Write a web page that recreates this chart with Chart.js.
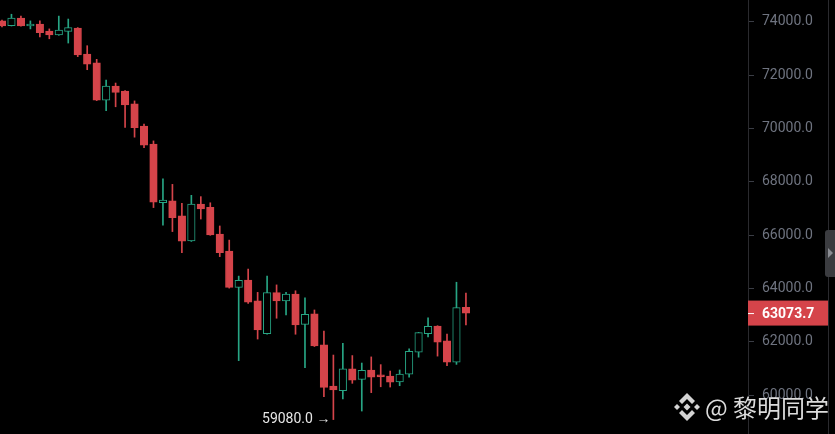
<!DOCTYPE html>
<html>
<head>
<meta charset="utf-8">
<script src="https://cdn.jsdelivr.net/npm/chart.js@4.4.1/dist/chart.umd.min.js"></script>
<style>
  html, body { margin: 0; padding: 0; background: #000; }
  #wrap { position: relative; width: 835px; height: 434px; }
</style>
</head>
<body>
<div id="wrap"><canvas id="kline"></canvas></div>
<script>
// Bougies (ouverture, plus haut, plus bas, clôture)
const opens  = [74030, 73850, 74140, 73840, 73910, 73650, 73500, 73640, 73760, 72790, 72460, 71060, 71590, 71400, 70920, 70090, 69410, 67210, 67280, 66720, 65780, 67160, 67040, 66040, 65400, 64040, 64310, 63530, 62300, 63840, 63530, 63790, 62650, 63050, 61880, 60340, 60160, 60980, 60590, 60940, 60760, 60710, 60490, 60780, 61610, 62300, 62590, 62030, 61230, 63290];
const highs  = [74060, 74280, 74210, 74030, 74030, 73730, 74210, 74100, 73780, 73100, 72590, 71810, 71700, 71420, 71030, 70160, 69530, 68110, 67900, 67190, 67490, 67440, 67210, 66340, 65810, 64460, 64720, 63850, 64460, 64130, 63850, 63910, 63650, 63190, 62400, 61500, 61940, 61480, 61200, 61430, 61140, 60900, 60940, 61730, 62350, 62900, 62600, 62290, 64230, 63820];
const lows   = [73800, 73840, 73830, 73730, 73430, 73360, 73490, 73200, 72690, 72200, 71040, 70660, 70810, 70040, 69670, 69280, 67030, 66370, 66130, 65340, 65760, 66600, 65990, 65190, 64010, 61290, 63440, 62100, 62280, 62880, 63000, 62280, 61030, 61820, 59940, 59080, 59850, 60440, 59400, 60090, 60310, 60300, 60350, 60670, 61420, 62180, 61460, 61100, 61150, 62630];
const closes = [73840, 74140, 73840, 73910, 73590, 73500, 73690, 73780, 72750, 72410, 71060, 71590, 71350, 70880, 70030, 69370, 67230, 67310, 66650, 65770, 67160, 66980, 66000, 65340, 64040, 64300, 63480, 62440, 63840, 63530, 63790, 62630, 63030, 61840, 60290, 60190, 60980, 60560, 60930, 60670, 60680, 60480, 60790, 61640, 62340, 62580, 61980, 61230, 63280, 63073.7];
const yTicks = [60000, 62000, 64000, 66000, 68000, 70000, 72000, 74000];
const lastPrice = 63073.7;
const lowPrice = 59080.0;
const watermark = '@ 黎明同学';

const UP = '#27a584';
const DOWN = '#d5444a';
const idx = opens.map((_, i) => i);
const isUp = i => closes[i] >= opens[i];

// Repères dessinés par-dessus : prix courant, plus bas, filigrane
const overlay = {
  id: 'overlay',
  afterDraw(chart) {
    const ctx = chart.ctx;
    const x = chart.scales.x, y = chart.scales.y;
    const area = chart.chartArea;
    ctx.save();

    // ligne de bord à droite
    ctx.strokeStyle = '#2a2a2e';
    ctx.lineWidth = 1;
    ctx.beginPath();
    ctx.moveTo(828.5, 0); ctx.lineTo(828.5, 434);
    ctx.stroke();

    // étiquette du dernier prix
    const py = y.getPixelForValue(lastPrice);
    ctx.fillStyle = DOWN;
    ctx.fillRect(area.right, py - 12.5, 80, 25);
    ctx.strokeStyle = '#fff';
    ctx.beginPath();
    ctx.moveTo(area.right, py + 0.5); ctx.lineTo(area.right + 6, py + 0.5);
    ctx.stroke();
    ctx.fillStyle = '#fff';
    ctx.font = 'bold 14px Roboto';
    ctx.textBaseline = 'middle';
    ctx.textAlign = 'left';
    ctx.fillText(lastPrice.toFixed(1), area.right + 14, py + 1);

    // plus bas
    const li = lows.indexOf(lowPrice);
    ctx.fillStyle = '#e6e6e6';
    ctx.font = '14px Roboto';
    ctx.textAlign = 'right';
    ctx.fillText(lowPrice.toFixed(1) + ' →', x.getPixelForValue(li) - 3, y.getPixelForValue(lowPrice));

    // petit onglet gris à droite
    ctx.fillStyle = '#3b3c40';
    ctx.beginPath();
    ctx.roundRect(825, 230, 14, 47, 3);
    ctx.fill();
    ctx.fillStyle = '#8a8c92';
    ctx.beginPath();
    ctx.moveTo(828, 248); ctx.lineTo(833, 253); ctx.lineTo(828, 258);
    ctx.fill();

    // filigrane : logo + texte
    ctx.fillStyle = '#d4d4d4';
    const cx = 687, cy = 407;
    const diamond = (dx, dy, r) => {
      ctx.beginPath();
      ctx.moveTo(dx, dy - r); ctx.lineTo(dx + r, dy); ctx.lineTo(dx, dy + r); ctx.lineTo(dx - r, dy);
      ctx.closePath(); ctx.fill();
    };
    diamond(cx, cy, 3.5);
    diamond(cx - 10, cy, 3);
    diamond(cx + 10, cy, 3);
    // chevrons haut et bas
    ctx.beginPath();
    ctx.moveTo(cx, cy - 14); ctx.lineTo(cx + 8, cy - 6); ctx.lineTo(cx + 5, cy - 3);
    ctx.lineTo(cx, cy - 8); ctx.lineTo(cx - 5, cy - 3); ctx.lineTo(cx - 8, cy - 6);
    ctx.closePath(); ctx.fill();
    ctx.beginPath();
    ctx.moveTo(cx, cy + 14); ctx.lineTo(cx + 8, cy + 6); ctx.lineTo(cx + 5, cy + 3);
    ctx.lineTo(cx, cy + 8); ctx.lineTo(cx - 5, cy + 3); ctx.lineTo(cx - 8, cy + 6);
    ctx.closePath(); ctx.fill();

    ctx.font = '24px "Noto Sans CJK SC"';
    ctx.textAlign = 'left';
    ctx.fillStyle = '#dcdcdc';
    ctx.fillText(watermark, 705, cy + 1);
    ctx.restore();
  }
};

new Chart(document.getElementById('kline').getContext('2d'), {
  type: 'bar',
  data: {
    datasets: [{
      // mèches
      data: idx.map(i => ({ x: i, y: [lows[i], highs[i]] })),
      backgroundColor: idx.map(i => isUp(i) ? UP : DOWN),
      barThickness: 1,
      grouped: false,
      order: 2
    }, {
      // corps : creux pour les bougies haussières
      data: idx.map(i => ({ x: i, y: [opens[i], closes[i]] })),
      backgroundColor: idx.map(i => isUp(i) ? '#000' : DOWN),
      borderColor: idx.map(i => isUp(i) ? UP : DOWN),
      borderWidth: 1,
      borderSkipped: false,
      barThickness: 7.5,
      grouped: false,
      order: 1
    }]
  },
  options: {
    responsive: true,
    maintainAspectRatio: false,
    animation: false,
    layout: { padding: 0 },
    plugins: { legend: { display: false }, tooltip: { enabled: false } },
    scales: {
      x: {
        type: 'linear',
        min: -0.21,
        max: 78.79,
        offset: false,
        display: false
      },
      y: {
        position: 'right',
        min: 58539,
        max: 74814,
        afterBuildTicks: s => { s.ticks = yTicks.map(v => ({ value: v })); },
        afterFit: s => { s.width = 87; s.paddingTop = 0; s.paddingBottom = 0; },
        grid: { drawOnChartArea: false, drawTicks: true, tickLength: 6, color: '#3a3d45' },
        border: { display: true, color: '#2a2a2e' },
        ticks: {
          color: '#6f7480',
          padding: 8,
          font: { family: 'Roboto', size: 14 },
          callback: v => v.toFixed(1)
        }
      }
    }
  },
  plugins: [overlay]
});
</script>
</body>
</html>
